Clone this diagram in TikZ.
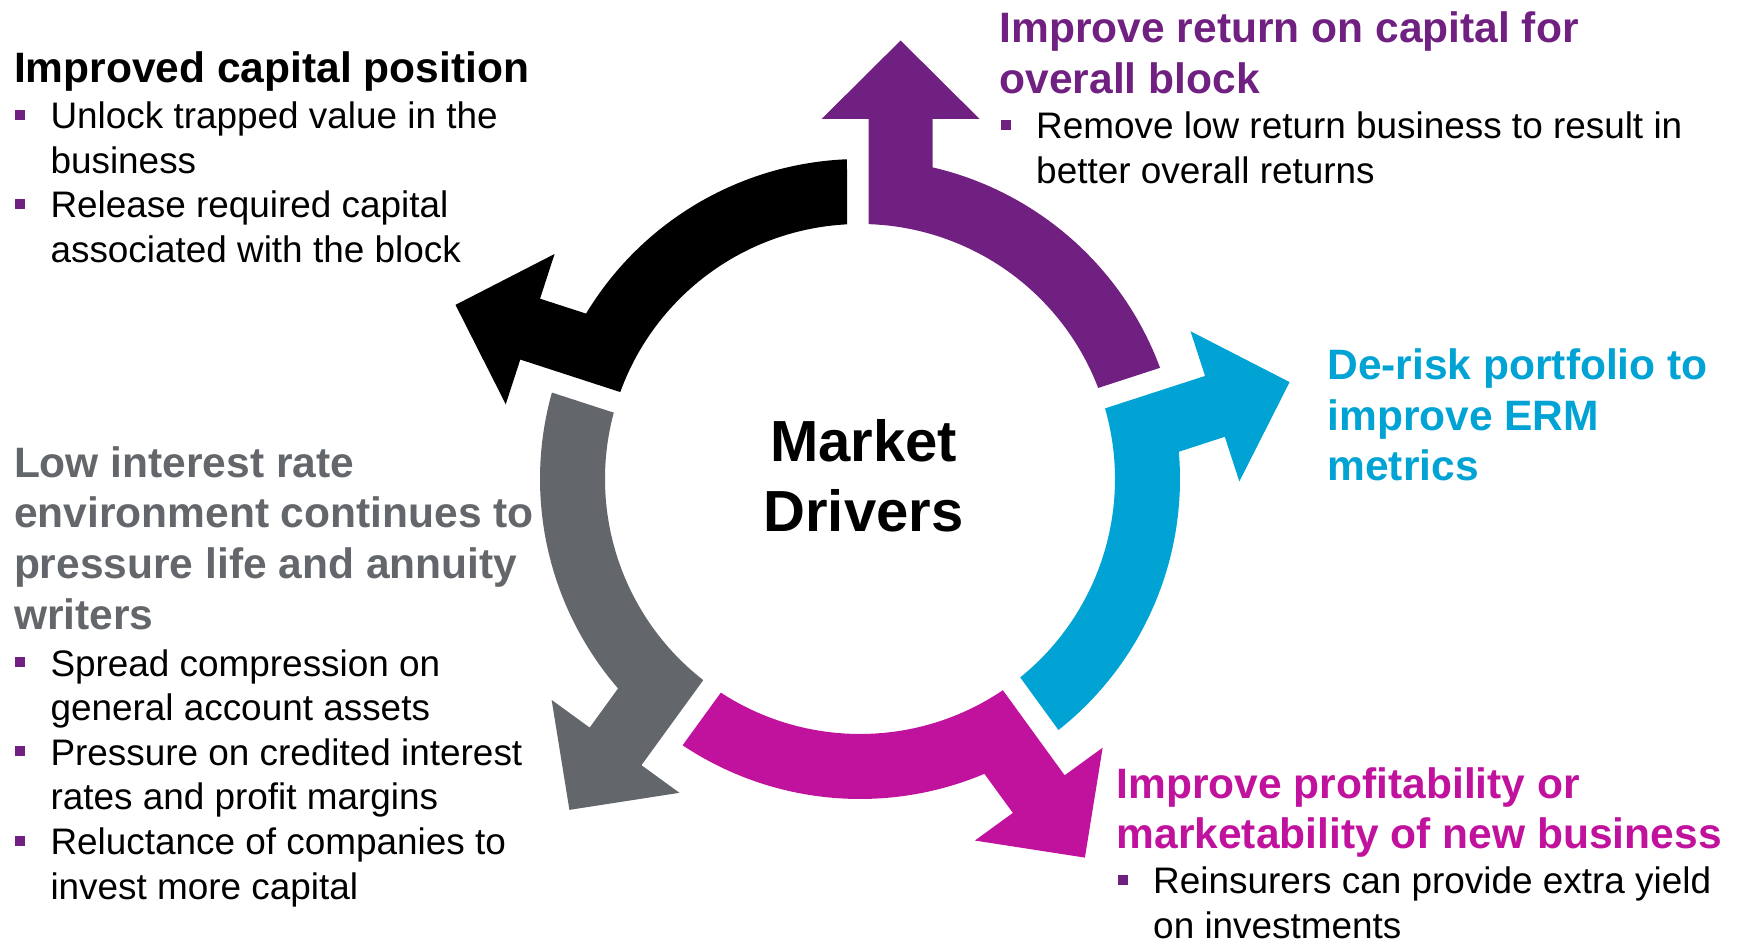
\documentclass[tikz,border=0pt]{standalone}
\usepackage{fontspec}
\setmainfont{Liberation Sans}
\definecolor{drvpurple}{RGB}{112,32,128}
\definecolor{drvblue}{RGB}{0,163,212}
\definecolor{drvmagenta}{RGB}{193,18,158}
\definecolor{drvgray}{RGB}{99,102,106}

% square bullet and the indent of a wrapped line
\newcommand\sqb{\makebox[0.99em][l]{\hspace{0.04em}\textcolor{drvpurple}{\rule[0.24em]{0.27em}{0.27em}}}}
\newcommand\ind{\hspace*{0.99em}}

\begin{document}
\begin{tikzpicture}[x=0.1mm,y=0.1mm,
    head/.style={anchor=base west,align=left,inner sep=0pt,font=\fontsize{12.1}{14.5}\selectfont\bfseries},
    pts/.style={anchor=base west,align=left,inner sep=0pt,font=\fontsize{10.5}{12.7}\selectfont},
    mkt/.style={anchor=base,inner sep=0pt,font=\fontsize{16.5}{19.8}\selectfont\bfseries}]
    \useasboundingbox (0,0) rectangle (1741,940);

    % five ring arrows, each one turned 72 degrees from the last
    \foreach \col [count=\i from 0] in {drvpurple,black,drvgray,drvmagenta,drvblue}
    {
        \fill[\col,shift={(860,461)},rotate=72*\i] (20.33:320) arc[start angle=20.33,end angle=76.88,radius=320]
            -- (72.6,360) -- (119.6,360) -- (40.6,438.5) -- (-38.4,360) -- (8.6,360)
            -- (88.07:255) arc[start angle=88.07,end angle=20.92,radius=255] -- cycle;
    }

    \node[mkt] (mkt) at (863.5,478) {Market};
    \node[mkt] (drv) at (863.5,408) {Drivers};

    % text blocks sit on the baseline of their last line
    \node[head] (capT) at (13.3,857) {Improved capital position};
    \node[pts] (capB) at (13.3,677.6) {\sqb Unlock trapped value in the\\\ind business\\\sqb Release required capital\\\ind associated with the block};

    \node[head,text=drvpurple] (retT) at (999,846.2) {Improve return on capital for\\overall block};
    \node[pts] (retB) at (999,756.9) {\sqb Remove low return business to result in\\\ind better overall returns};

    \node[head,text=drvblue] (riskT) at (1326.7,459) {De-risk portfolio to\\improve ERM\\metrics};

    \node[head,text=drvgray] (rateT) at (13.3,310.1) {Low interest rate\\environment continues to\\pressure life and annuity\\writers};
    \node[pts] (rateB) at (13.3,40.8) {\sqb Spread compression on\\\ind general account assets\\\sqb Pressure on credited interest\\\ind rates and profit margins\\\sqb Reluctance of companies to\\\ind invest more capital};

    \node[head,text=drvmagenta] (newT) at (1116,91) {Improve profitability or\\marketability of new business};
    \node[pts] (newB) at (1116,1.8) {\sqb Reinsurers can provide extra yield\\\ind on investments};
\end{tikzpicture}
\end{document}
